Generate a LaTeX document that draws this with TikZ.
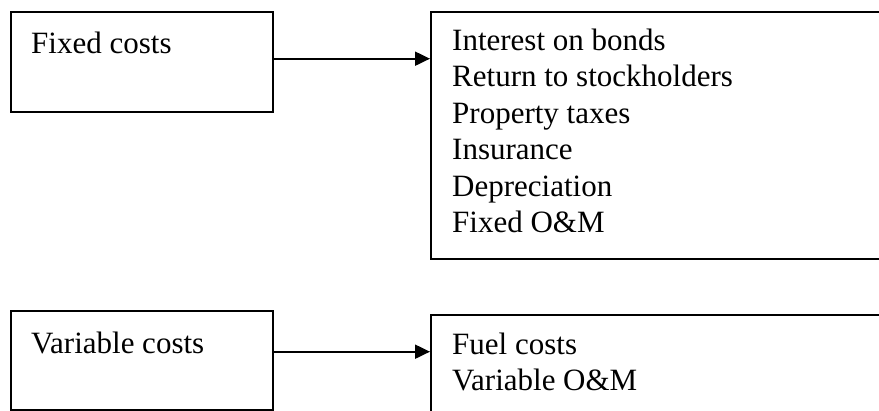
\documentclass[tikz,border=0pt]{standalone}
\usepackage{fontspec}
\setmainfont{Liberation Serif}
\usetikzlibrary{arrows.meta}
\begin{document}
\begin{tikzpicture}[x=1pt,y=-1pt,
  boxnode/.style={draw=black, line width=2pt, inner sep=0pt, anchor=north west, fill=white},
  txt/.style={inner sep=0pt, anchor=base west, font=\fontsize{31}{36.5}\selectfont},
  conn/.style={line width=2pt, -{Triangle[length=15pt,width=14pt]}}]
\clip (0,0) rectangle (879,411);
\fill[white] (0,0) rectangle (879,411);
% boxes
\node[boxnode, minimum width=262pt, minimum height=100pt] (b1) at (10,11) {};
\node[boxnode, minimum width=460pt, minimum height=247pt] (b2) at (430,11) {};
\node[boxnode, minimum width=262pt, minimum height=99pt] (b3) at (10,310) {};
\node[boxnode, minimum width=460pt, minimum height=110pt] (b4) at (430,314) {};
% texts
\node[txt] (t1) at (31,53.3) {Fixed costs};
\node[txt] (r1) at (452,50.6) {Interest on bonds};
\node[txt] (r2) at (452,87.0) {Return to stockholders};
\node[txt] (r3) at (452,123.4) {Property taxes};
\node[txt] (r4) at (452,159.8) {Insurance};
\node[txt] (r5) at (452,196.2) {Depreciation};
\node[txt] (r6) at (452,232.6) {Fixed O\&M};
\node[txt] (t3) at (31,353.3) {Variable costs};
\node[txt] (s1) at (452,355) {Fuel costs};
\node[txt] (s2) at (452,391) {Variable O\&M};
% connectors
\draw[conn] ([yshift=3.3pt]b1.east) -- ([yshift=3.3pt]b1.east -| b2.west);
\draw[conn] ([yshift=8.8pt]b3.east) -- ([yshift=8.8pt]b3.east -| b4.west);
\end{tikzpicture}
\end{document}
